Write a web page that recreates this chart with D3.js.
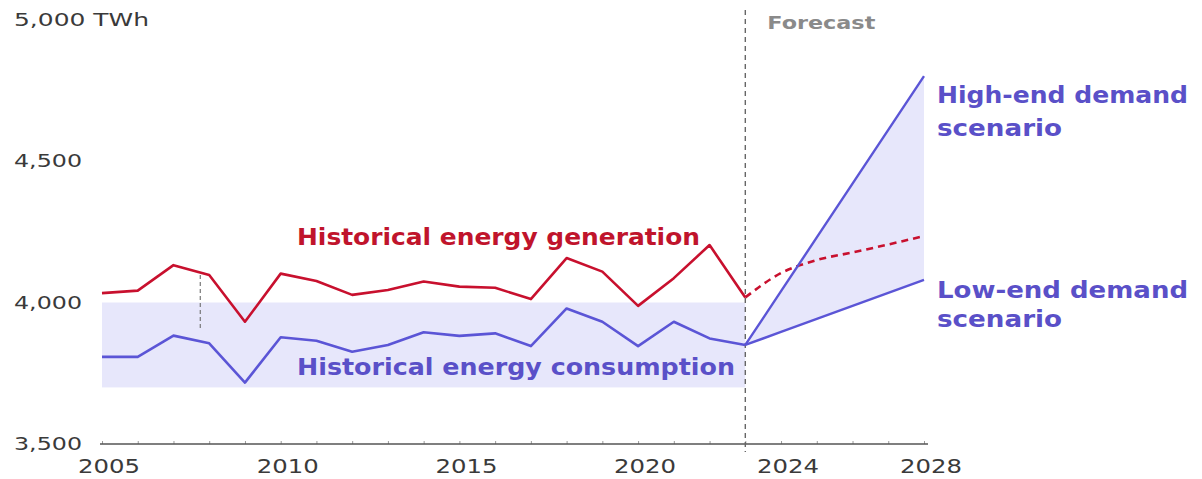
<!DOCTYPE html>
<html>
<head>
<meta charset="utf-8">
<script src="https://cdn.jsdelivr.net/npm/d3@7/dist/d3.min.js"></script>
<style>
  html, body { margin: 0; padding: 0; background: #fff; }
  svg { display: block; font-family: "DejaVu Sans", "Noto Sans", sans-serif; }
</style>
</head>
<body>
<svg id="chart" width="1202" height="479"></svg>
<script>
// Historical years and series (TWh)
const histYears = [2005, 2006, 2007, 2008, 2009, 2010, 2011, 2012, 2013, 2014, 2015, 2016, 2017, 2018, 2019, 2020, 2021, 2022, 2023];
const generation = [4033, 4042, 4132, 4097, 3932, 4102, 4076, 4027, 4044, 4074, 4056, 4052, 4012, 4157, 4109, 3988, 4086, 4203, 4018];
const consumption = [3808, 3808, 3883, 3856, 3717, 3877, 3865, 3826, 3850, 3895, 3882, 3891, 3846, 3979, 3932, 3846, 3932, 3873, 3850];

// Forecast period
const forecastYears = [2023, 2024, 2025, 2026, 2027, 2028];
const generationForecast = [4018, 4104, 4150, 4177, 4205, 4235];
const highDemand = [3850, 4040, 4230, 4420, 4610, 4800];
const lowDemand = [3850, 3896, 3942, 3988, 4034, 4080];

// Historical range band
const bandLow = 3700;
const bandHigh = 4000;

// Axis ticks and labels
const yTicks = [3500, 4000, 4500, 5000];
const xTickLabels = [2005, 2010, 2015, 2020, 2024, 2028];
const xMinorTicks = d3.range(2005, 2029);
const forecastStart = 2023;
const markerYear = 2007.75;
const markerRange = [3900, 4097];

const red = "#c8102e";
const redText = "#c0142c";
const blue = "#5b55d6";
const blueText = "#5a50c8";
const bandFill = "#e7e7fb";

const svg = d3.select("#chart");
const x = d3.scaleLinear().domain([2005, 2028]).range([102, 924]);
const y = d3.scaleLinear().domain([3500, 5000]).range([444, 19.5]);

// Fit a text run to a given width (the typeface is set wide)
function fit(sel, w) {
  sel.attr("textLength", w).attr("lengthAdjust", "spacingAndGlyphs");
}

// Historical band
svg.append("rect")
  .attr("x", x(2005)).attr("width", x(forecastStart) - x(2005))
  .attr("y", y(bandHigh)).attr("height", y(bandLow) - y(bandHigh))
  .attr("fill", bandFill);

// Forecast band between scenarios
const fcast = forecastYears.map((yr, i) => ({ yr, lo: lowDemand[i], hi: highDemand[i], g: generationForecast[i] }));
svg.append("path")
  .datum(fcast)
  .attr("fill", bandFill)
  .attr("d", d3.area().x(d => x(d.yr)).y0(d => y(d.lo)).y1(d => y(d.hi)));

// Axis baseline with yearly ticks
const xAxis = d3.axisBottom(x).tickValues(xMinorTicks).tickSize(-3).tickFormat("");
const gx = svg.append("g").attr("transform", `translate(0,${y(3500)})`).call(xAxis);
gx.select(".domain").remove();
gx.selectAll(".tick line").attr("stroke", "#999").attr("stroke-width", 1);
svg.append("line")
  .attr("x1", x(2005) - 2).attr("x2", x(2028) + 4)
  .attr("y1", y(3500)).attr("y2", y(3500))
  .attr("stroke", "#555").attr("stroke-width", 1.5);

// Year labels
svg.append("g").selectAll("text")
  .data(xTickLabels).join("text")
  .attr("x", d => x(d) + 7 - 31)
  .attr("y", 473)
  .attr("font-size", 20)
  .attr("fill", "#3a3a3a")
  .text(d => d)
  .call(fit, 62);

// Value labels
svg.append("g").selectAll("text")
  .data(yTicks).join("text")
  .attr("x", 14)
  .attr("y", d => y(d))
  .attr("dy", "0.36em")
  .attr("font-size", 18)
  .attr("fill", "#3a3a3a")
  .text(d => d3.format(",")(d) + (d === 5000 ? " TWh" : ""))
  .each(function (d) { d3.select(this).call(fit, d === 5000 ? 135 : 68); });

// Forecast divider
svg.append("line")
  .attr("x1", x(forecastStart)).attr("x2", x(forecastStart))
  .attr("y1", 10).attr("y2", 452)
  .attr("stroke", "#666").attr("stroke-width", 1.4)
  .attr("stroke-dasharray", "5,4");
svg.append("text")
  .attr("x", x(forecastStart) + 22).attr("y", 29)
  .attr("font-size", 18).attr("font-weight", 700)
  .attr("fill", "#8a8a8a")
  .text("Forecast")
  .call(fit, 108);

// Small marker between generation and consumption
svg.append("line")
  .attr("x1", x(markerYear)).attr("x2", x(markerYear))
  .attr("y1", y(markerRange[1])).attr("y2", y(markerRange[0]))
  .attr("stroke", "#777").attr("stroke-width", 1.2)
  .attr("stroke-dasharray", "4,3");

// Lines
const line = d3.line().x(d => x(d[0])).y(d => y(d[1]));
svg.append("path")
  .datum(histYears.map((yr, i) => [yr, generation[i]]))
  .attr("fill", "none").attr("stroke", red).attr("stroke-width", 2.6)
  .attr("stroke-linejoin", "round").attr("d", line);
svg.append("path")
  .datum(histYears.map((yr, i) => [yr, consumption[i]]))
  .attr("fill", "none").attr("stroke", blue).attr("stroke-width", 2.6)
  .attr("stroke-linejoin", "round").attr("d", line);
svg.append("path")
  .datum(fcast.map(d => [d.yr, d.g]))
  .attr("fill", "none").attr("stroke", red).attr("stroke-width", 2.6)
  .attr("stroke-dasharray", "7,5")
  .attr("d", d3.line().curve(d3.curveMonotoneX).x(d => x(d[0])).y(d => y(d[1])));
svg.append("path")
  .datum(fcast.map(d => [d.yr, d.hi]))
  .attr("fill", "none").attr("stroke", blue).attr("stroke-width", 2.4).attr("d", line);
svg.append("path")
  .datum(fcast.map(d => [d.yr, d.lo]))
  .attr("fill", "none").attr("stroke", blue).attr("stroke-width", 2.4).attr("d", line);

// Series labels: [text, width] per line
function label(lines, x0, y0, gap, color) {
  const t = svg.append("text")
    .attr("x", x0).attr("y", y0)
    .attr("font-size", 23).attr("font-weight", 700)
    .attr("fill", color);
  lines.forEach(([s, w], i) => t.append("tspan")
    .attr("x", x0).attr("dy", i ? gap : 0).text(s).call(fit, w));
}
label([["Historical energy generation", 403]], 297, 245, 0, redText);
label([["Historical energy consumption", 438]], 297, 375, 0, blueText);
label([["High-end demand", 251], ["scenario", 125]], 937, 103, 33, blueText);
label([["Low-end demand", 251], ["scenario", 125]], 937, 298, 29, blueText);
</script>
</body>
</html>
